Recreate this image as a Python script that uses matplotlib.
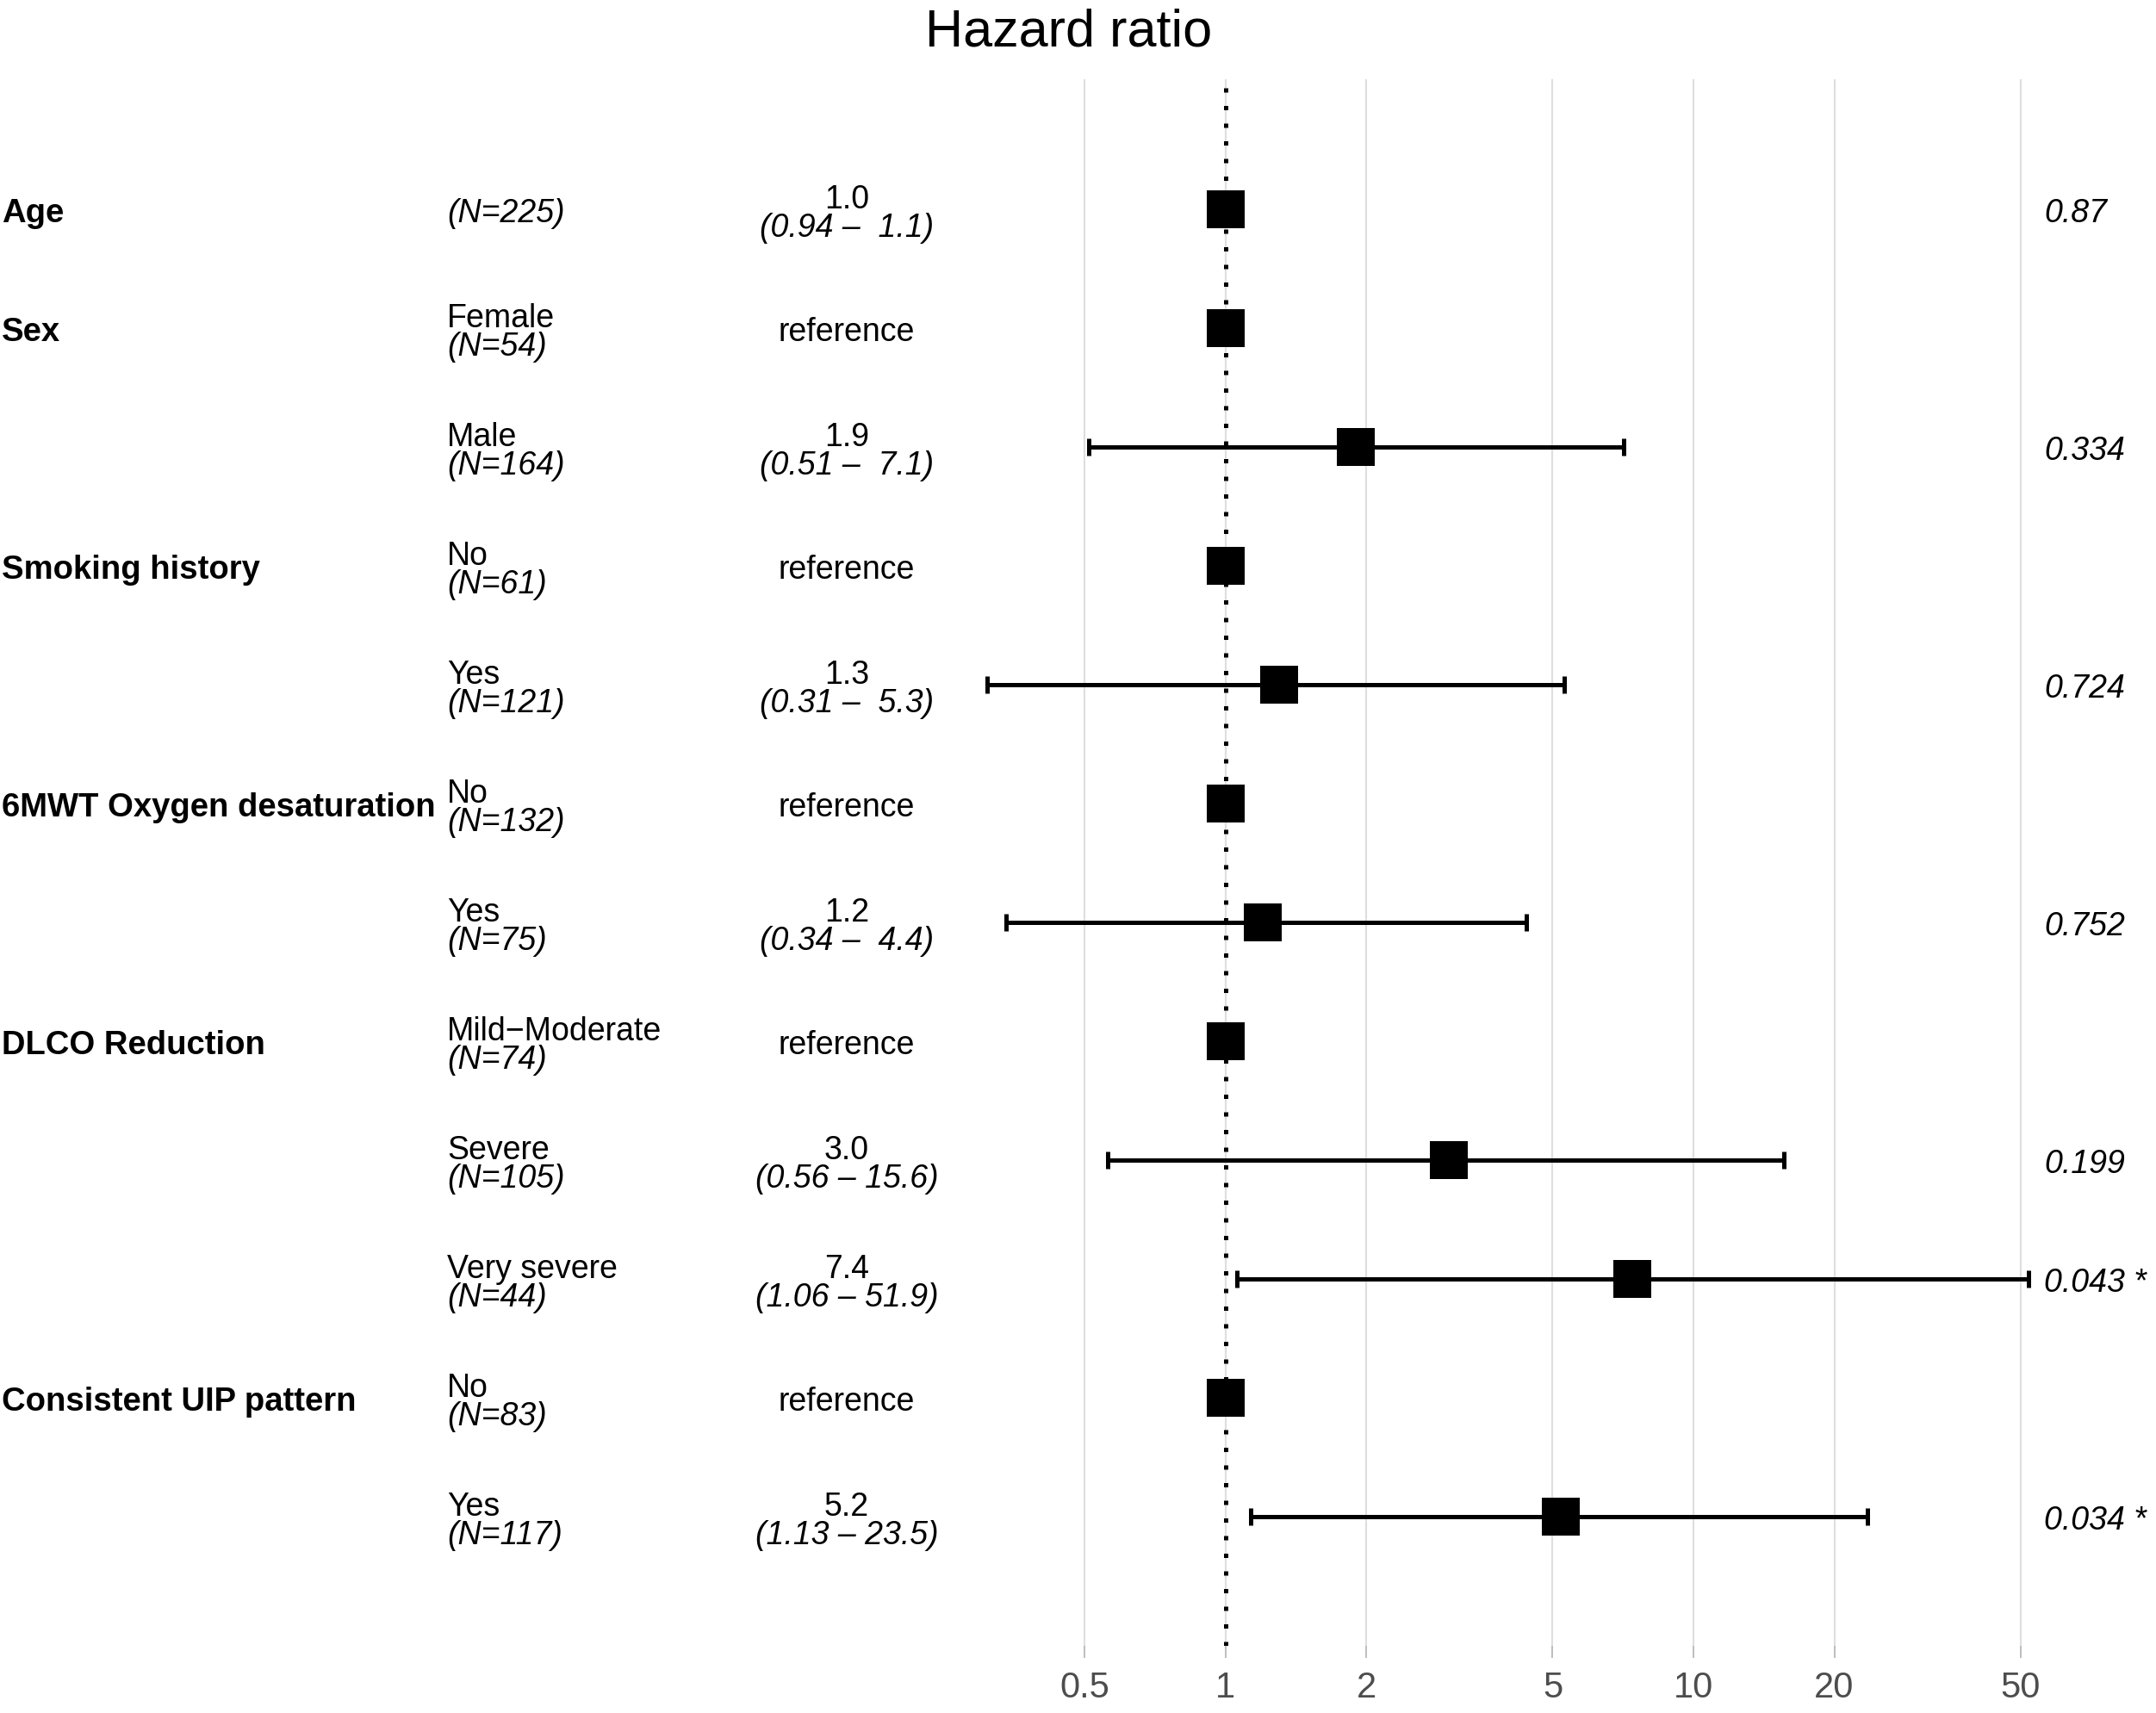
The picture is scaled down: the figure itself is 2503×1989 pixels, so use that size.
import numpy as np
import matplotlib
matplotlib.use("Agg")
import matplotlib.pyplot as plt
from matplotlib.ticker import FixedLocator, FixedFormatter, NullLocator
from matplotlib.transforms import blended_transform_factory

plt.rcParams["font.family"] = ["Liberation Sans", "DejaVu Sans"]

# ── data ─────────────────────────────────────────────────────────
variables = ["Age", "Sex", "", "Smoking history", "", "6MWT Oxygen desaturation", "",
             "DLCO Reduction", "", "", "Consistent UIP pattern", ""]
levels = ["", "Female", "Male", "No", "Yes", "No", "Yes",
          "Mild\u2212Moderate", "Severe", "Very severe", "No", "Yes"]
n_obs = [225, 54, 164, 61, 121, 132, 75, 74, 105, 44, 83, 117]
is_ref = [False, True, False, True, False, True, False, True, False, False, True, False]
hr = [1.0, 1.0, 1.9, 1.0, 1.3, 1.0, 1.2, 1.0, 3.0, 7.4, 1.0, 5.2]
ci_low = [0.94, np.nan, 0.51, np.nan, 0.31, np.nan, 0.34, np.nan, 0.56, 1.06, np.nan, 1.13]
# Age upper limit printed as "1.1"; its cap stays hidden under the square
ci_high = [1.06, np.nan, 7.1, np.nan, 5.3, np.nan, 4.4, np.nan, 15.6, 51.9, np.nan, 23.5]
p_text = ["0.87", "", "0.334", "", "0.724", "", "0.752", "", "0.199", "0.043 *", "", "0.034 *"]

x_breaks = [0.5, 1, 2, 5, 10, 20, 50]
x_labels = ["0.5", "1", "2", "5", "10", "20", "50"]

# ── figure ───────────────────────────────────────────────────────
W, H = 2503, 1990
fig = plt.figure(figsize=(W / 100, H / 100), dpi=100)

panel_top, panel_bot = 93, 1912          # px from top
ax = fig.add_axes([0, 1 - panel_bot / H, 1, (panel_bot - panel_top) / H])

# x: log scale, 1 at px 1422.7, one decade = 543.3 px
x0_px, dec_px = 1422.7, 543.3
ax.set_xscale("log")
ax.set_xlim(10 ** (-x0_px / dec_px), 10 ** ((W - x0_px) / dec_px))

row_px0, row_step = 244, 138
ax.set_ylim((panel_bot - row_px0) / row_step, (panel_top - row_px0) / row_step)

for s in ax.spines.values():
    s.set_visible(False)
ax.set_facecolor("none")

ax.xaxis.set_major_locator(FixedLocator(x_breaks))
ax.xaxis.set_major_formatter(FixedFormatter(x_labels))
ax.xaxis.set_minor_locator(NullLocator())
ax.set_yticks([])
ax.grid(axis="x", color="#DEDEDE", lw=1.5, zorder=0)
ax.tick_params(axis="x", length=10, width=1.4, color="#BDBDBD",
               labelsize=30, labelcolor="#4D4D4D", pad=10)

rows = np.arange(len(hr))
ax.axvline(1, color="black", lw=3.6, linestyle=(0, (1, 3.1)), zorder=2)

est = [not r for r in is_ref]
ax.errorbar(np.array(hr)[est], rows[est],
            xerr=[np.array(hr)[est] - np.array(ci_low)[est],
                  np.array(ci_high)[est] - np.array(hr)[est]],
            fmt="none", ecolor="black", elinewidth=3.6, capsize=7.2, capthick=3.6, zorder=3)
ax.plot(hr, rows, "s", color="black", markersize=31.5, mew=0, zorder=4)

# ── text columns ─────────────────────────────────────────────────
tr = blended_transform_factory(fig.transFigure, ax.transData)
fs = 27
dy = 0.12
yo = 0.03
x_var, x_lev, x_est, x_p = 2 / W, 519 / W, 983 / W, 2373 / W

for i in rows:
    if variables[i]:
        ax.text(x_var, i + yo, variables[i], transform=tr, fontsize=27.5, fontweight="bold",
                ha="left", va="center")
    n_lab = f"(N={n_obs[i]})"
    if levels[i]:
        ax.text(x_lev, i - dy + yo, levels[i], transform=tr, fontsize=fs, ha="left", va="center")
        ax.text(x_lev, i + dy + yo, n_lab, transform=tr, fontsize=fs, style="italic",
                ha="left", va="center")
    else:
        ax.text(x_lev, i + yo, n_lab, transform=tr, fontsize=fs, style="italic",
                ha="left", va="center")
    if is_ref[i]:
        ax.text(x_est, i + yo, "reference", transform=tr, fontsize=fs, ha="center", va="center")
    else:
        ax.text(x_est, i - dy + yo, f"{hr[i]:.1f}", transform=tr, fontsize=fs,
                ha="center", va="center")
        ax.text(x_est, i + dy + yo, f"({ci_low[i]:.2f} \u2013 {ci_high[i]:4.1f})", transform=tr,
                fontsize=fs, style="italic", ha="center", va="center")
    if p_text[i]:
        ax.text(x_p, i + yo, p_text[i], transform=tr, fontsize=fs, style="italic",
                ha="left", va="center")

fig.text(1241 / W, 1 - 53 / H, "Hazard ratio", fontsize=44, ha="center", va="baseline")

fig.savefig("out.png", dpi=100, facecolor="white")
